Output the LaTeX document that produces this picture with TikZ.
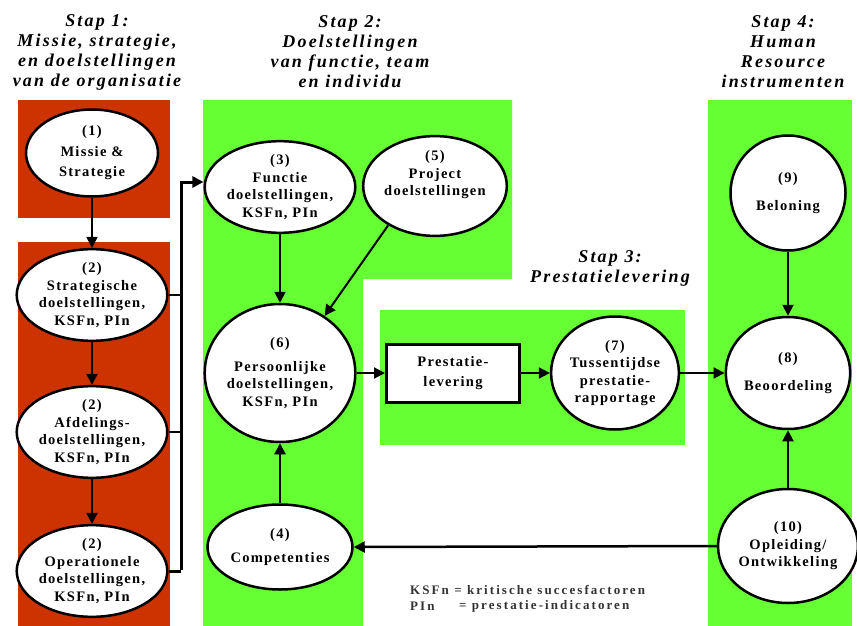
\documentclass[tikz,border=0pt]{standalone}
\usepackage{fontspec}
\setmainfont{Liberation Serif}
\newfontfamily\nodefont[LetterSpace=9,BoldFont={Liberation Serif Bold},ItalicFont={Liberation Serif Italic},BoldItalicFont={Liberation Serif Bold Italic}]{Liberation Serif}
\newfontfamily\headfont[LetterSpace=12,BoldFont={Liberation Serif Bold},ItalicFont={Liberation Serif Italic},BoldItalicFont={Liberation Serif Bold Italic}]{Liberation Serif}
\newfontfamily\legfont[LetterSpace=16,BoldFont={Liberation Serif Bold}]{Liberation Serif}
\usetikzlibrary{shapes.geometric,arrows.meta}
\definecolor{panelred}{RGB}{204,51,0}
\definecolor{panelgreen}{RGB}{102,255,51}
\begin{document}
\begin{tikzpicture}[x=1pt,y=-1pt,
  ell/.style={ellipse,draw=black,line width=2.5pt,fill=white,inner sep=0pt,align=center,
    font=\nodefont\bfseries\fontsize{14.5}{17.5}\selectfont},
  boxnode/.style={rectangle,draw=black,line width=3pt,fill=white,inner sep=0pt,align=center,
    minimum width=133pt,minimum height=58pt,font=\nodefont\bfseries\fontsize{14.5}{20}\selectfont},
  head/.style={align=center,inner sep=0pt,font=\headfont\bfseries\itshape\fontsize{18}{20}\selectfont},
  arr/.style={line width=2pt,-{Triangle[length=11pt,width=11pt]}},
  lin/.style={line width=1.5pt},
  legend/.style={anchor=west,inner sep=0pt,text=black!80,font=\legfont\bfseries\fontsize{13}{15}\selectfont}
]
\useasboundingbox (0,0) rectangle (857,626);
\fill[white] (0,0) rectangle (857,626);
% panels
\fill[panelred] (18,100) rectangle (170,218);
\fill[panelred] (18,242) rectangle (170,626);
\fill[panelgreen] (203,100) -- (512,100) -- (512,279) -- (363,279) -- (363,626) -- (203,626) -- cycle;
\fill[panelgreen] (380,310) rectangle (685,445);
\fill[panelgreen] (708,100) rectangle (852,626);
% headers
\node[head] (h1) at (97,52) {Stap 1:\\Missie, strategie,\\en doelstellingen\\van de organisatie};
\node[head] (h2) at (350,52) {Stap 2:\\Doelstellingen\\van functie, team\\en individu};
\node[head] (h4) at (783,52) {Stap 4:\\Human\\Resource\\instrumenten};
\node[head] (h3) at (610,268) {Stap 3:\\Prestatielevering};
% nodes
\node[ell,minimum width=132pt,minimum height=87pt] (n1) at (92,153) {(1)\\[3pt]Missie \&\\[3pt]Strategie};
\node[ell,minimum width=134pt,minimum height=86pt] (n2a) at (92,295) {(2)\\Strategische\\doelstellingen,\\KSFn, PIn};
\node[ell,minimum width=134pt,minimum height=87pt] (n2b) at (92,432) {(2)\\Afdelings-\\doelstellingen,\\KSFn, PIn};
\node[ell,minimum width=134pt,minimum height=82pt] (n2c) at (92,571) {(2)\\Operationele\\doelstellingen,\\KSFn, PIn};
\node[ell,minimum width=136pt,minimum height=88pt] (n3) at (280,187) {(3)\\Functie\\doelstellingen,\\KSFn, PIn};
\node[ell,minimum width=136pt,minimum height=86pt] (n5) at (435,186) {(5)\\Project\\doelstellingen\\[8pt]};
\node[ell,minimum width=130pt,minimum height=138pt] (n6) at (280,373) {(6)\\[6pt]Persoonlijke\\doelstellingen,\\KSFn, PIn};
\node[ell,minimum width=145pt,minimum height=85pt] (n4) at (280,547) {(4)\\[6pt]Competenties};
\node[boxnode] (pl) at (453,373) {Prestatie-\\levering};
\node[ell,minimum width=125pt,minimum height=113pt] (n7) at (615,373) {(7)\\Tussentijdse\\prestatie-\\rapportage};
\node[ell,minimum width=115pt,minimum height=115pt] (n9) at (788,193) {(9)\\[10pt]Beloning};
\node[ell,minimum width=112pt,minimum height=112pt] (n8) at (788,373) {(8)\\[10pt]Beoordeling};
\node[ell,minimum width=119pt,minimum height=114pt] (n10) at (788,546) {(10)\\Opleiding/\\Ontwikkeling};
% legend
\node[legend] (l1) at (410,590) {KSFn = kritische succesfactoren};
\node[legend] (l2) at (410,606) {PIn};
\node[legend] (l3) at (459,606) {= prestatie-indicatoren};
% connectors
\coordinate (bt) at (181,182);
\coordinate (bb) at (181,571);
\draw[arr] (n1.south) -- (n2a.north);
\draw[arr] (n2a.south) -- (n2b.north);
\draw[arr] (n2b.south) -- (n2c.north);
\draw[lin] (n2a.east) -- (n2a.east -| bt);
\draw[lin] (n2b.east) -- (n2b.east -| bt);
\draw[line width=3pt] (n2c.east) -- (bb);
\draw[line width=3pt,-{Triangle[length=11pt,width=11pt]}] ([yshift=1.5pt]bb) -- (bt) -- (n3.west |- bt);
\draw[arr] (n3.south) -- (n6.north);
\draw[arr] (n5.-140) -- (n6.52);
\draw[arr] (n4.north) -- (n6.south);
\draw[arr] (n6.east) -- (pl.west);
\draw[arr] (pl.east) -- (n7.west);
\draw[arr] (n7.east) -- (n8.west);
\draw[arr] (n9.south) -- (n8.north);
\draw[arr] (n10.north) -- (n8.south);
\draw[line width=2.5pt,-{Triangle[length=11pt,width=11pt]}] (n10.west) -- (n4.east);
\end{tikzpicture}
\end{document}
